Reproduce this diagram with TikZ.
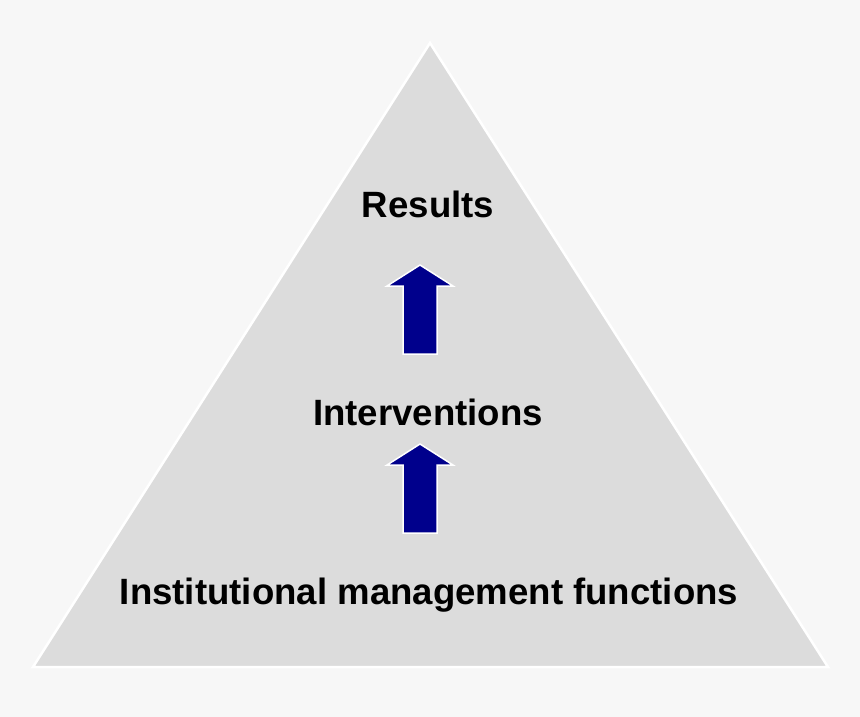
\documentclass[tikz,border=0pt]{standalone}
\usepackage{fontspec}
\setmainfont{Liberation Sans}
\definecolor{pagegray}{HTML}{F7F7F7}
\definecolor{pyrgray}{HTML}{DCDCDC}
\definecolor{arrowblue}{HTML}{00008C}
\tikzset{
  level/.style={font=\fontsize{36.6}{40}\selectfont\bfseries, text=black, inner sep=0pt, anchor=base},
  uparrow/.style={fill=arrowblue, draw=white, line width=1.5pt, line join=miter},
}

\begin{document}
\begin{tikzpicture}[x=1pt, y=-1pt]

\fill[pagegray] (0,0) rectangle (860,717);
\useasboundingbox (0,0) rectangle (860,717);

\filldraw[pyrgray, draw=white, line width=2.5pt, line join=miter] (430,43) -- (828,667) -- (33,667) -- cycle;

\node[level] (results) at (428,217) {Results};
\node[level] (interv) at (428,425) {Interventions};
\node[level] (funcs) at (429,604) {Institutional management functions};

% arrows between the levels
\draw[uparrow] (403,354) -- (403,286) -- (387,286) -- (420,265) -- (453,286) -- (437,286) -- (437,354) -- cycle;
\draw[uparrow] (403,533) -- (403,465) -- (387,465) -- (420,444) -- (453,465) -- (437,465) -- (437,533) -- cycle;

\end{tikzpicture}
\end{document}
